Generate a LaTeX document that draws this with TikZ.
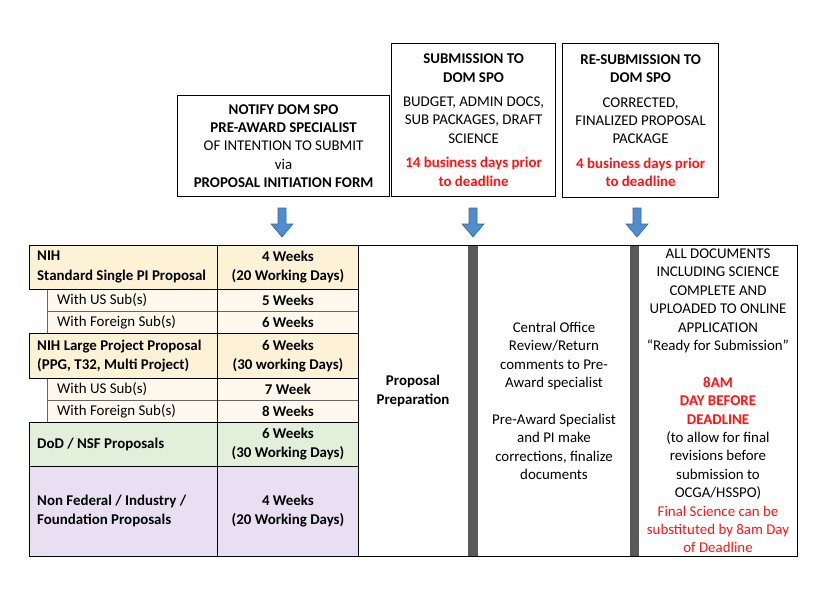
\documentclass[tikz,border=0pt]{standalone}
\usepackage{fontspec}
\setmainfont{Carlito}
\usetikzlibrary{positioning}

\definecolor{nihfill}{RGB}{253,241,214}
\definecolor{subfill}{RGB}{255,249,237}
\definecolor{dodfill}{RGB}{226,239,218}
\definecolor{nonfedfill}{RGB}{232,223,242}
\definecolor{barfill}{RGB}{89,89,89}
\definecolor{arrowfill}{RGB}{79,141,208}
\definecolor{arrowline}{RGB}{58,104,160}
\definecolor{deadred}{RGB}{255,20,20}

\tikzset{
  every node/.style={font=\fontsize{14.9}{18.4}\selectfont, inner sep=0pt},
  stepbox/.style={draw, line width=1.2pt, align=center, anchor=north west},
  cell/.style={align=left, anchor=west},
  weeks/.style={align=center, font=\fontsize{14.9}{18.4}\selectfont\bfseries},
  tline/.style={black, line width=0.7pt},
  subline/.style={black!60, line width=0.7pt}
}

\begin{document}
\begin{tikzpicture}[x=1pt, y=-1pt]
  \useasboundingbox (0,0) rectangle (830,591);

  % three steps above the table
  \node [stepbox, minimum width=212, minimum height=101] (notify) at (177,95)
        {\textbf{NOTIFY DOM SPO}\\ \textbf{PRE-AWARD SPECIALIST}\\
         OF INTENTION TO SUBMIT\\ via\\ \textbf{PROPOSAL INITIATION FORM}};
  \node [stepbox, minimum width=164, minimum height=153] (submit) at (391,43)
        {\textbf{SUBMISSION TO}\\ \textbf{DOM SPO}\\[6pt]
         BUDGET, ADMIN DOCS,\\ SUB PACKAGES, DRAFT\\ SCIENCE\\[6pt]
         \textcolor{deadred}{\textbf{14 business days prior}}\\
         \textcolor{deadred}{\textbf{to deadline}}};
  \node [stepbox, minimum width=156, minimum height=154] (resubmit) at (562,43)
        {\textbf{RE-SUBMISSION TO}\\ \textbf{DOM SPO}\\[6pt]
         CORRECTED,\\ FINALIZED PROPOSAL\\ PACKAGE\\[6pt]
         \textcolor{deadred}{\textbf{4 business days prior}}\\
         \textcolor{deadred}{\textbf{to deadline}}};

  % block arrows
  \foreach \cx in {282, 473, 637}
    \draw [arrowline, fill=arrowfill, line width=0.6pt]
      (\cx-4,208) -- (\cx+4,208) -- (\cx+4,224) -- (\cx+11,224)
      -- (\cx,237) -- (\cx-11,224) -- (\cx-4,224) -- cycle;

  % row fills
  \fill [nihfill]    (29,245) rectangle (358,289);
  \fill [subfill]    (47,289) rectangle (358,333);
  \fill [nihfill]    (29,333) rectangle (358,378);
  \fill [subfill]    (47,378) rectangle (358,422);
  \fill [dodfill]    (29,422) rectangle (358,466);
  \fill [nonfedfill] (29,466) rectangle (358,556);

  % grey bars
  \fill [barfill] (468,245) rectangle (478,556);
  \fill [barfill] (630,245) rectangle (639,556);

  % table lines
  \draw [subline] (47,311) -- (358,311);
  \draw [subline] (47,400) -- (358,400);
  \draw [subline] (47,289) -- (47,333);
  \draw [subline] (47,378) -- (47,422);
  \draw [tline] (29,245) -- (797,245) -- (797,556) -- (29,556) -- (29,422);
  \draw [tline] (29,245) -- (29,289);
  \draw [tline] (29,333) -- (29,378);
  \foreach \ry in {289, 333, 378, 422, 466}
    \draw [tline] (29,\ry) -- (358,\ry);
  \draw [tline] (217,245) -- (217,556);
  \draw [tline] (358,245) -- (358,556);

  % left column
  \node [cell] (nih) at (37,267) {\textbf{NIH}\\[1.5pt] \textbf{Standard Single PI Proposal}};
  \node [cell] (nihus) at (57,300) {With US Sub(s)};
  \node [cell] (nihfor) at (57,322) {With Foreign Sub(s)};
  \node [cell] (large) at (37,356) {\textbf{NIH Large Project Proposal}\\ \textbf{(PPG, T32, Multi Project)}};
  \node [cell] (largeus) at (57,389) {With US Sub(s)};
  \node [cell] (largefor) at (57,411) {With Foreign Sub(s)};
  \node [cell] (dod) at (37,444) {\textbf{DoD / NSF Proposals}};
  \node [cell] (nonfed) at (37,511) {\textbf{Non Federal / Industry /}\\ \textbf{Foundation Proposals}};

  % weeks column
  \node [weeks] (nihw) at (288,267) {4 Weeks\\[1.5pt] (20 Working Days)};
  \node [weeks] (nihusw) at (288,300) {5 Weeks};
  \node [weeks] (nihforw) at (288,322) {6 Weeks};
  \node [weeks] (largew) at (288,356) {6 Weeks\\ (30 working Days)};
  \node [weeks] (largeusw) at (288,389) {7 Week};
  \node [weeks] (largeforw) at (288,411) {8 Weeks};
  \node [weeks] (dodw) at (288,444) {6 Weeks\\ (30 Working Days)};
  \node [weeks] (nonfedw) at (288,511) {4 Weeks\\ (20 Working Days)};

  % process columns
  \node [weeks] (prep) at (413,391) {Proposal\\ Preparation};
  \node [align=center] (review) at (554,401)
        {Central Office\\ Review/Return\\ comments to Pre-\\ Award specialist\\[18.4pt]
         Pre-Award Specialist\\ and PI make\\ corrections, finalize\\ documents};
  \node [align=center] (ready) at (718,401)
        {ALL DOCUMENTS\\ INCLUDING SCIENCE\\ COMPLETE AND\\ UPLOADED TO ONLINE\\
         APPLICATION\\ “Ready for Submission”\\[18.4pt]
         \textcolor{deadred}{\textbf{8AM}}\\ \textcolor{deadred}{\textbf{DAY BEFORE}}\\
         \textcolor{deadred}{\textbf{DEADLINE}}\\
         (to allow for final\\ revisions before\\ submission to\\ OCGA/HSSPO)\\
         \textcolor{deadred}{Final Science can be}\\
         \textcolor{deadred}{substituted by 8am Day}\\
         \textcolor{deadred}{of Deadline}};
\end{tikzpicture}
\end{document}
